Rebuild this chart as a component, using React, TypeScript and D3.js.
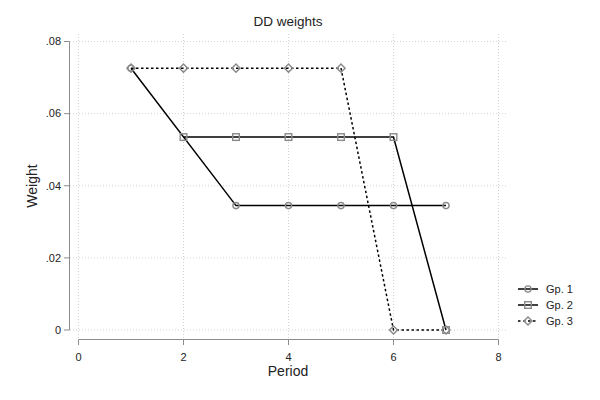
import React from "react";
import * as d3 from "d3";

const periods1 = [1, 3, 4, 5, 6, 7];
const gp1 = [0.0726, 0.0345, 0.0345, 0.0345, 0.0345, 0.0345];
const periods2 = [2, 3, 4, 5, 6, 7];
const gp2 = [0.0535, 0.0535, 0.0535, 0.0535, 0.0535, 0];
const periods3 = [1, 2, 3, 4, 5, 6, 7];
const gp3 = [0.0726, 0.0726, 0.0726, 0.0726, 0.0726, 0, 0];
const xTicks = [0, 2, 4, 6, 8];
const yTicks = [0, 0.02, 0.04, 0.06, 0.08];
const yTickLabels = ["0", ".02", ".04", ".06", ".08"];
const seriesNames = ["Gp. 1", "Gp. 2", "Gp. 3"];

const W = 600;
const H = 400;
const FONT = "'Liberation Sans', Arial, Helvetica, sans-serif";
const AXIS = "#8c8c8c";
const GRID = "#c8c8c8";
const MARK = "#8a8a8a";

type Shape = "circle" | "square" | "diamond";

function Marker({ x, y, shape }: { x: number; y: number; shape: Shape }) {
  if (shape === "circle")
    return <circle cx={x} cy={y} r={3.1} fill="none" stroke={MARK} strokeWidth={1.4} />;
  if (shape === "square")
    return <rect x={x - 3.3} y={y - 3.3} width={6.6} height={6.6} fill="none" stroke={MARK} strokeWidth={1.4} />;
  return (
    <path
      d={`M${x},${y - 4.1}L${x + 4.1},${y}L${x},${y + 4.1}L${x - 4.1},${y}Z`}
      fill="none"
      stroke={MARK}
      strokeWidth={1.4}
    />
  );
}

export default function App() {
  const x = d3.scaleLinear().domain([0, 8]).range([78.5, 498.5]);
  const y = d3.scaleLinear().domain([0, 0.08]).range([330, 41.5]);
  const line = d3
    .line<[number, number]>()
    .x((d) => x(d[0]))
    .y((d) => y(d[1]));

  const series: { px: number[]; vals: number[]; shape: Shape; dash?: string }[] = [
    { px: periods1, vals: gp1, shape: "circle" },
    { px: periods2, vals: gp2, shape: "square" },
    { px: periods3, vals: gp3, shape: "diamond", dash: "2.5,2.5" },
  ];

  const plotLeft = 70;
  const plotRight = 506;
  const plotTop = 34;
  const plotBottom = 338;

  return (
    <svg width={W} height={H} style={{ position: "absolute", left: 0, top: 0, background: "#fff" }} fontFamily={FONT}>
      <rect x={0} y={0} width={W} height={H} fill="#fff" />
      {/* grid */}
      {yTicks.map((t) => (
        <line key={"gy" + t} x1={plotLeft} x2={plotRight} y1={y(t)} y2={y(t)} stroke={GRID} strokeWidth={0.8} strokeDasharray="1,2" />
      ))}
      {xTicks.map((t) => (
        <line key={"gx" + t} x1={x(t)} x2={x(t)} y1={plotTop} y2={plotBottom} stroke={GRID} strokeWidth={0.8} strokeDasharray="1,2" />
      ))}
      {/* y axis */}
      <line x1={69.5} x2={69.5} y1={y(0.08)} y2={y(0)} stroke={AXIS} strokeWidth={1} />
      {yTicks.map((t, i) => (
        <g key={"yt" + t}>
          <line x1={64} x2={69.5} y1={y(t)} y2={y(t)} stroke={AXIS} strokeWidth={1} />
          <text x={61} y={y(t)} dy="0.35em" textAnchor="end" fontSize={11} fill="#222">
            {yTickLabels[i]}
          </text>
        </g>
      ))}
      {/* x axis */}
      <line x1={x(0)} x2={x(8)} y1={339.5} y2={339.5} stroke={AXIS} strokeWidth={1} />
      {xTicks.map((t) => (
        <g key={"xt" + t}>
          <line x1={x(t)} x2={x(t)} y1={339.5} y2={345} stroke={AXIS} strokeWidth={1} />
          <text x={x(t)} y={357} dy="0.35em" textAnchor="middle" fontSize={11} fill="#222">
            {t}
          </text>
        </g>
      ))}
      {/* titles */}
      <text x={288} y={26} textAnchor="middle" fontSize={13.5} fill="#222">
        DD weights
      </text>
      <text x={288} y={376} textAnchor="middle" fontSize={14} fill="#222">
        Period
      </text>
      <text transform="translate(37,186) rotate(-90)" textAnchor="middle" fontSize={14} fill="#222">
        Weight
      </text>
      {/* series */}
      {series.map((s, i) => {
        const pts = s.px.map((p, j) => [p, s.vals[j]] as [number, number]);
        return (
          <g key={"s" + i}>
            <path d={line(pts) || ""} fill="none" stroke="#000" strokeWidth={1.5} strokeDasharray={s.dash} />
            {pts.map((d, j) => (
              <Marker key={j} x={x(d[0])} y={y(d[1])} shape={s.shape} />
            ))}
          </g>
        );
      })}
      {/* legend */}
      {series.map((s, i) => {
        const ly = 289 + i * 16;
        return (
          <g key={"lg" + i}>
            <line x1={518} x2={538} y1={ly} y2={ly} stroke="#000" strokeWidth={1.5} strokeDasharray={s.dash} />
            <Marker x={528} y={ly} shape={s.shape} />
            <text x={546} y={ly} dy="0.35em" fontSize={11} fill="#222">
              {seriesNames[i]}
            </text>
          </g>
        );
      })}
    </svg>
  );
}
